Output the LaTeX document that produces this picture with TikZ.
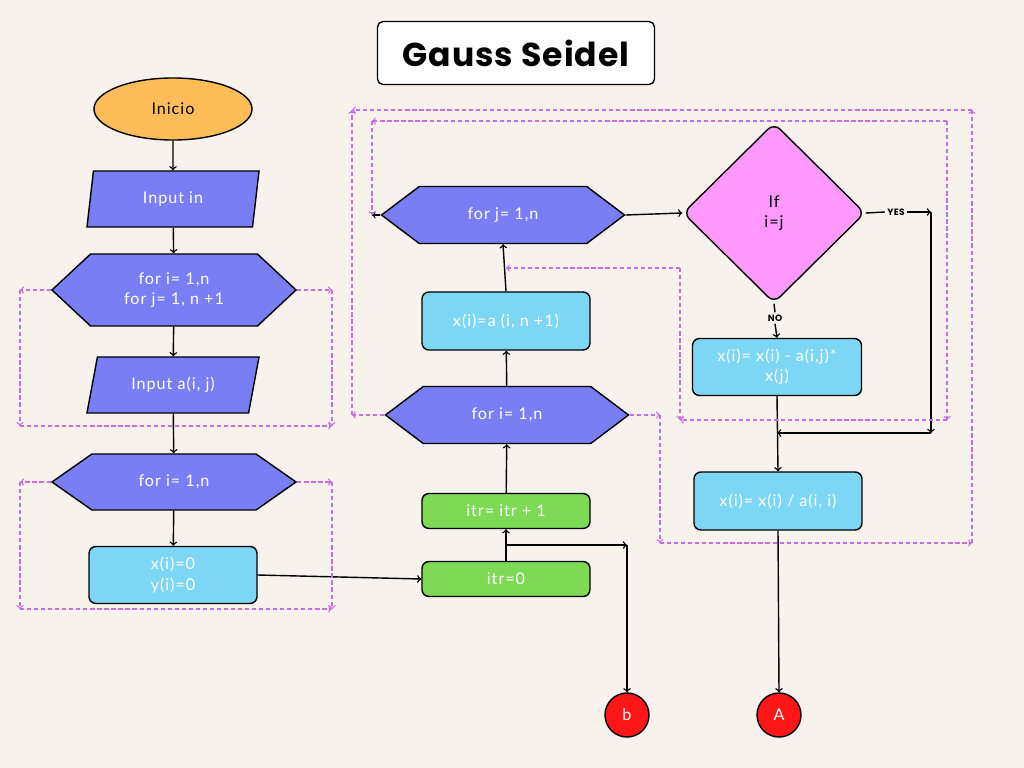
\documentclass[tikz,border=0pt]{standalone}
\usepackage{fontspec}
\setmainfont{Lato}[LetterSpace=6]
\newfontfamily\titlefont{Poppins}[LetterSpace=3]
\newfontfamily\tagfont{Poppins}[LetterSpace=4]
\usetikzlibrary{shapes.geometric,shapes.symbols}

\definecolor{paper}{RGB}{247,243,236}
\definecolor{hexblue}{RGB}{121,126,245}
\definecolor{procblue}{RGB}{126,214,245}
\definecolor{itrgreen}{RGB}{126,217,87}
\definecolor{condpink}{RGB}{255,153,255}
\definecolor{startorange}{RGB}{255,189,89}
\definecolor{linkred}{RGB}{255,22,22}
\definecolor{loopviolet}{RGB}{203,108,230}

\begin{document}
\begin{tikzpicture}[>=to,x=0.025cm,y=-0.025cm,
    every node/.style={font=\fontsize{11.5}{14.5}\selectfont},
    boxbase/.style={draw=black,line width=1pt,text=white,align=center},
    hexa/.style={boxbase,signal,signal to=west and east,signal pointer angle=74,fill=hexblue,
        minimum width=6.075cm,minimum height=1.425cm,inner sep=0pt},
    inputbox/.style={boxbase,trapezium,trapezium stretches body,fill=hexblue,
        minimum width=4.3cm,minimum height=1.4cm,inner sep=0pt},
    procbox/.style={boxbase,rectangle,rounded corners=5pt,fill=procblue,
        minimum width=4.2cm,minimum height=1.45cm,inner sep=2pt},
    itrbox/.style={procbox,fill=itrgreen,minimum height=0.875cm},
    connector/.style={boxbase,circle,fill=linkred,minimum size=1.1cm,inner sep=0pt},
    arrowline/.style={->,line width=1pt},
    backedge/.style={->,draw=loopviolet,line width=0.9pt,dash pattern=on 3pt off 2pt},
    tag/.style={font=\tagfont\fontsize{6.5}{7}\selectfont\bfseries,inner sep=1.5pt}]

    \fill[paper] (0,0) rectangle (1024,768);
    \useasboundingbox (0,0) rectangle (1024,768);

    \node[draw=black,line width=1pt,fill=white,rounded corners=4pt,minimum width=6.925cm,minimum height=1.575cm,
        font=\titlefont\fontsize{23.5}{27}\selectfont\bfseries] (title) at (516,53) {Gauss Seidel};

    \node[ellipse,draw=black,line width=1pt,fill=startorange,minimum width=3.95cm,minimum height=1.55cm] (inicio) at (173,109) {Inicio};
    \node[inputbox,trapezium left angle=66,trapezium right angle=114] (inpn) at (173,199) {Input in};
    \node[hexa,signal pointer angle=86,minimum width=6.1cm,minimum height=1.8cm] (fori) at (174,290) {for i= 1,n\\for j= 1, n +1};
    \node[inputbox,trapezium left angle=56,trapezium right angle=124] (inpa) at (173,385) {Input a(i, j)};
    \node[hexa,signal pointer angle=70,minimum width=6.1cm,minimum height=1.4cm] (forinit) at (174,482) {for i= 1,n};
    \node[procbox,minimum height=1.425cm] (init) at (173,575) {x(i)=0\\y(i)=0};

    \node[itrbox] (itrzero) at (506,579) {itr=0};
    \node[itrbox] (itrinc) at (506,511) {itr= itr + 1};
    \node[hexa] (forout) at (507,415) {for i= 1,n};
    \node[procbox] (xstart) at (506,321) {x(i)=a (i, n +1)};
    \node[hexa] (forin) at (503,215) {for j= 1,n};

    \node[diamond,draw=black,line width=1pt,fill=condpink,rounded corners=6pt,minimum width=4.55cm,minimum height=4.5cm,
        inner sep=0pt,align=center,text=black] (cond) at (774,213) {If\\i=j};
    \node[tag] (yes) at (896,212) {YES};
    \node[tag] (no) at (775,318) {NO};
    \node[procbox,minimum width=4.225cm,minimum height=1.425cm] (sub) at (777,367) {x(i)= x(i) - a(i,j)*\\x(j)};
    \node[procbox] (div) at (778,501) {x(i)= x(i) / a(i, i)};

    \node[connector] (b) at (627,715) {b};
    \node[connector] (A) at (779,715) {A};

    \draw[arrowline] (inicio) -- (inpn);
    \draw[arrowline] (inpn) -- (fori);
    \draw[arrowline] (fori) -- (inpa);
    \draw[arrowline] (inpa) -- (forinit);
    \draw[arrowline] (forinit) -- (init);
    \draw[arrowline] (init.east) -- (itrzero.west);
    \draw[arrowline] (itrzero) -- (itrinc);
    \draw[arrowline] (itrinc) -- (forout);
    \draw[arrowline] (forout) -- (xstart);
    \draw[arrowline] (xstart.north) -- (forin.south);
    \draw[arrowline] (forin.east) -- (cond.west);

    \coordinate (split) at (506,545);
    \coordinate (splitend) at (split -| b.north);
    \draw[line width=1pt,->] (split) -- (splitend);
    \draw[arrowline] (splitend) -- (b.north);

    \draw[line width=1pt] (cond.east) -- (yes.west);
    \coordinate (yesturn) at (931,212);
    \coordinate (yesdown) at (931,433);
    \draw[arrowline] (yes.east) -- (yesturn);
    \draw[arrowline] (yesturn) -- (yesdown);
    \draw[arrowline] (yesdown) -- (yesdown -| sub.south);
    \draw[line width=1pt] (cond.south) -- (no.north);
    \draw[arrowline] (no.south) -- (sub.north);
    \draw[arrowline] (sub.south) -- (div.north);
    \draw[arrowline] (div.south) -- (A.north);

    \coordinate (la) at (20,290);
    \coordinate (lb) at (20,426);
    \coordinate (lc) at (332,426);
    \coordinate (ld) at (332,290);
    \draw[backedge] (fori.west) -- (la);
    \draw[backedge] (la) -- (lb);
    \draw[backedge] (lb) -- (lc);
    \draw[backedge] (fori.east) -- (ld);
    \draw[backedge] (ld) -- (lc);

    \coordinate (ma) at (20,482);
    \coordinate (mb) at (20,609);
    \coordinate (mc) at (332,609);
    \coordinate (md) at (332,482);
    \draw[backedge] (forinit.west) -- (ma);
    \draw[backedge] (ma) -- (mb);
    \draw[backedge] (mb) -- (mc);
    \draw[backedge] (forinit.east) -- (md);
    \draw[backedge] (md) -- (mc);

    \coordinate (oa) at (352,415);
    \coordinate (ob) at (352,110);
    \coordinate (oc) at (972,110);
    \coordinate (od) at (972,543);
    \coordinate (oe) at (660,415);
    \coordinate (of) at (660,543);
    \draw[backedge] (forout.west) -- (oa);
    \draw[backedge] (oa) -- (ob);
    \draw[backedge] (oc) -- (ob);
    \draw[backedge] (od) -- (oc);
    \draw[backedge] (forout.east) -- (oe);
    \draw[backedge] (oe) -- (of);
    \draw[backedge] (of) -- (od);

    \coordinate (ia) at (372,215);
    \coordinate (ib) at (372,121);
    \coordinate (ic) at (947,121);
    \coordinate (id) at (947,420);
    \coordinate (ie) at (680,420);
    \coordinate (if) at (680,268);
    \draw[arrowline,line width=0.8pt] (forin.west) -- (ia);
    \draw[backedge] (ib) -- (ia);
    \draw[backedge] (ic) -- (ib);
    \draw[backedge] (ic) -- (id);
    \draw[backedge] (id) -- (ie);
    \draw[backedge] (if) -- (ie);
    \draw[backedge] (if) -- (if -| xstart.north);
\end{tikzpicture}
\end{document}
